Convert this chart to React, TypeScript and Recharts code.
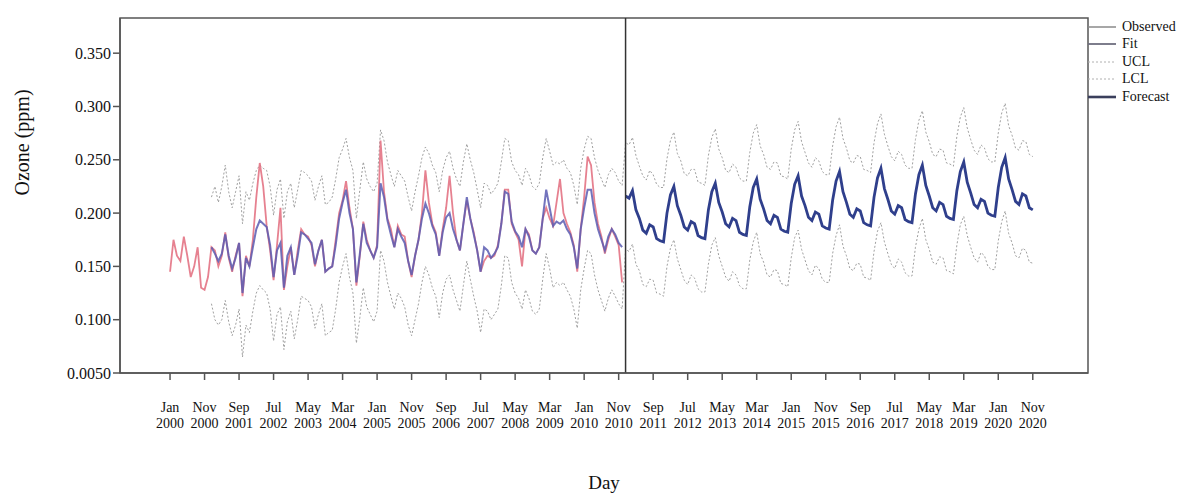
import {
  Line,
  LineChart,
  ReferenceArea,
  ReferenceLine,
  XAxis,
  YAxis,
} from "recharts";

const SERIF = '"Liberation Serif", "Times New Roman", serif';

// month index: 0 = Jan 2000
const tickMonths = [0, 10, 20, 30, 40, 50, 60, 70, 80, 90, 100, 110, 120, 130, 140, 150, 160, 170, 180, 190, 200, 210, 220, 230, 240, 250];
const tickLabels = [
  "Jan 2000", "Nov 2000", "Sep 2001", "Jul 2002", "May 2003", "Mar 2004",
  "Jan 2005", "Nov 2005", "Sep 2006", "Jul 2007", "May 2008", "Mar 2009",
  "Jan 2010", "Nov 2010", "Sep 2011", "Jul 2012", "May 2013", "Mar 2014",
  "Jan 2015", "Nov 2015", "Sep 2016", "Jul 2017", "May 2018", "Mar 2019",
  "Jan 2020", "Nov 2020",
];
const yTicks = [0.05, 0.1, 0.15, 0.2, 0.25, 0.3, 0.35];

// Jan 2000 .. Dec 2010
const observed = [
  0.145, 0.175, 0.160, 0.155, 0.178, 0.160, 0.140, 0.150, 0.168, 0.130, 0.128, 0.140,
  0.168, 0.165, 0.150, 0.160, 0.182, 0.158, 0.145, 0.160, 0.172, 0.122, 0.160, 0.150,
  0.175, 0.215, 0.247, 0.225, 0.188, 0.165, 0.137, 0.170, 0.205, 0.128, 0.150, 0.168,
  0.142, 0.165, 0.185, 0.180, 0.178, 0.170, 0.150, 0.165, 0.175, 0.145, 0.148, 0.150,
  0.175, 0.200, 0.212, 0.230, 0.205, 0.185, 0.132, 0.160, 0.192, 0.175, 0.165, 0.158,
  0.170, 0.268, 0.220, 0.195, 0.185, 0.168, 0.188, 0.180, 0.178, 0.155, 0.140, 0.160,
  0.175, 0.200, 0.240, 0.210, 0.190, 0.182, 0.160, 0.185, 0.205, 0.235, 0.200, 0.175,
  0.165, 0.190, 0.212, 0.195, 0.182, 0.165, 0.145, 0.155, 0.160, 0.158, 0.160, 0.170,
  0.190, 0.222, 0.222, 0.190, 0.182, 0.175, 0.150, 0.185, 0.180, 0.165, 0.162, 0.168,
  0.195, 0.205, 0.195, 0.188, 0.210, 0.232, 0.200, 0.190, 0.182, 0.170, 0.145, 0.185,
  0.215, 0.253, 0.245, 0.210, 0.190, 0.178, 0.162, 0.175, 0.185, 0.178, 0.170, 0.135,
];

// Jan 2001 .. Dec 2010
const fitHist = [
  0.168, 0.162, 0.155, 0.162, 0.180, 0.160, 0.148, 0.158, 0.172, 0.125, 0.158, 0.150,
  0.168, 0.185, 0.193, 0.190, 0.187, 0.170, 0.140, 0.165, 0.172, 0.130, 0.160, 0.168,
  0.142, 0.160, 0.182, 0.180, 0.176, 0.172, 0.152, 0.165, 0.175, 0.145, 0.148, 0.150,
  0.170, 0.195, 0.210, 0.222, 0.200, 0.185, 0.135, 0.162, 0.190, 0.172, 0.165, 0.158,
  0.168, 0.228, 0.215, 0.193, 0.180, 0.168, 0.185, 0.178, 0.172, 0.155, 0.142, 0.160,
  0.175, 0.195, 0.209, 0.200, 0.188, 0.180, 0.160, 0.182, 0.196, 0.200, 0.185, 0.175,
  0.165, 0.190, 0.215, 0.195, 0.180, 0.165, 0.145, 0.168, 0.165, 0.158, 0.162, 0.168,
  0.190, 0.220, 0.218, 0.192, 0.183, 0.178, 0.168, 0.185, 0.178, 0.165, 0.162, 0.168,
  0.195, 0.222, 0.205, 0.188, 0.192, 0.190, 0.193, 0.185, 0.180, 0.168, 0.148, 0.185,
  0.205, 0.222, 0.222, 0.200, 0.185, 0.175, 0.165, 0.178, 0.185, 0.180, 0.172, 0.168,
];

const uclHist = [
  0.215, 0.225, 0.210, 0.225, 0.245, 0.220, 0.205, 0.220, 0.235, 0.190, 0.220, 0.212,
  0.228, 0.240, 0.245, 0.242, 0.240, 0.225, 0.198, 0.222, 0.232, 0.195, 0.220, 0.228,
  0.205, 0.222, 0.240, 0.238, 0.235, 0.230, 0.212, 0.225, 0.235, 0.208, 0.210, 0.215,
  0.232, 0.252, 0.260, 0.270, 0.252, 0.240, 0.195, 0.222, 0.248, 0.232, 0.225, 0.220,
  0.228, 0.278, 0.268, 0.248, 0.236, 0.225, 0.240, 0.235, 0.230, 0.215, 0.202, 0.220,
  0.235, 0.252, 0.262, 0.256, 0.245, 0.238, 0.220, 0.240, 0.252, 0.258, 0.242, 0.232,
  0.225, 0.248, 0.265, 0.250, 0.238, 0.222, 0.205, 0.228, 0.226, 0.218, 0.222, 0.228,
  0.248, 0.270, 0.268, 0.248, 0.240, 0.236, 0.226, 0.242, 0.236, 0.225, 0.222, 0.228,
  0.252, 0.270, 0.258, 0.245, 0.248, 0.246, 0.250, 0.242, 0.238, 0.226, 0.208, 0.242,
  0.260, 0.272, 0.270, 0.252, 0.240, 0.232, 0.224, 0.236, 0.242, 0.238, 0.230, 0.226,
];

const lclHist = [
  0.115, 0.100, 0.095, 0.100, 0.118, 0.098, 0.085, 0.095, 0.110, 0.065, 0.095, 0.088,
  0.108, 0.125, 0.132, 0.128, 0.125, 0.110, 0.080, 0.105, 0.112, 0.072, 0.098, 0.108,
  0.082, 0.100, 0.122, 0.120, 0.118, 0.112, 0.092, 0.105, 0.115, 0.085, 0.088, 0.090,
  0.110, 0.135, 0.150, 0.162, 0.140, 0.125, 0.078, 0.102, 0.130, 0.112, 0.105, 0.098,
  0.108, 0.165, 0.155, 0.135, 0.122, 0.110, 0.125, 0.120, 0.112, 0.095, 0.085, 0.100,
  0.115, 0.135, 0.150, 0.142, 0.130, 0.122, 0.102, 0.125, 0.138, 0.142, 0.128, 0.118,
  0.108, 0.132, 0.155, 0.138, 0.122, 0.108, 0.088, 0.110, 0.108, 0.100, 0.105, 0.110,
  0.132, 0.160, 0.158, 0.135, 0.125, 0.120, 0.110, 0.128, 0.120, 0.108, 0.105, 0.110,
  0.138, 0.162, 0.148, 0.130, 0.135, 0.132, 0.135, 0.128, 0.122, 0.110, 0.092, 0.128,
  0.148, 0.165, 0.162, 0.142, 0.128, 0.118, 0.108, 0.120, 0.128, 0.122, 0.115, 0.110,
];

// Jan 2011 .. Nov 2020
const forecast = [
  0.216, 0.214, 0.221, 0.203, 0.195, 0.184, 0.181, 0.189, 0.187, 0.176, 0.174, 0.173,
  0.200, 0.217, 0.225, 0.207, 0.198, 0.187, 0.184, 0.192, 0.190, 0.179, 0.177, 0.176,
  0.203, 0.220, 0.228, 0.210, 0.201, 0.190, 0.187, 0.195, 0.193, 0.182, 0.180, 0.179,
  0.206, 0.224, 0.232, 0.213, 0.204, 0.193, 0.190, 0.198, 0.196, 0.185, 0.183, 0.182,
  0.209, 0.227, 0.235, 0.216, 0.207, 0.196, 0.193, 0.201, 0.199, 0.188, 0.186, 0.185,
  0.212, 0.230, 0.239, 0.220, 0.210, 0.199, 0.196, 0.204, 0.202, 0.191, 0.189, 0.188,
  0.215, 0.233, 0.242, 0.223, 0.213, 0.202, 0.199, 0.207, 0.205, 0.194, 0.192, 0.191,
  0.218, 0.236, 0.245, 0.226, 0.216, 0.205, 0.202, 0.210, 0.208, 0.197, 0.195, 0.194,
  0.221, 0.239, 0.248, 0.229, 0.219, 0.208, 0.205, 0.213, 0.211, 0.200, 0.198, 0.197,
  0.224, 0.243, 0.252, 0.232, 0.222, 0.211, 0.208, 0.218, 0.216, 0.205, 0.203,
];

const uclFc = [
  0.266, 0.264, 0.271, 0.254, 0.244, 0.235, 0.231, 0.240, 0.236, 0.227, 0.224, 0.224,
  0.251, 0.268, 0.276, 0.256, 0.249, 0.237, 0.235, 0.241, 0.241, 0.229, 0.228, 0.226,
  0.254, 0.271, 0.279, 0.260, 0.252, 0.240, 0.238, 0.246, 0.243, 0.233, 0.230, 0.230,
  0.257, 0.275, 0.283, 0.263, 0.255, 0.243, 0.241, 0.248, 0.247, 0.235, 0.234, 0.232,
  0.260, 0.278, 0.286, 0.267, 0.257, 0.247, 0.243, 0.252, 0.249, 0.239, 0.236, 0.236,
  0.263, 0.281, 0.290, 0.270, 0.261, 0.249, 0.247, 0.254, 0.253, 0.241, 0.240, 0.238,
  0.266, 0.284, 0.293, 0.274, 0.263, 0.253, 0.249, 0.258, 0.255, 0.245, 0.242, 0.242,
  0.269, 0.287, 0.296, 0.276, 0.267, 0.255, 0.253, 0.260, 0.259, 0.247, 0.246, 0.244,
  0.272, 0.290, 0.299, 0.280, 0.269, 0.259, 0.255, 0.264, 0.261, 0.251, 0.248, 0.248,
  0.275, 0.294, 0.303, 0.282, 0.273, 0.261, 0.259, 0.268, 0.267, 0.255, 0.253,
];

const lclFc = [
  0.166, 0.164, 0.171, 0.152, 0.146, 0.133, 0.131, 0.138, 0.137, 0.125, 0.124, 0.122,
  0.150, 0.167, 0.175, 0.157, 0.147, 0.137, 0.133, 0.142, 0.139, 0.129, 0.126, 0.126,
  0.152, 0.170, 0.177, 0.160, 0.150, 0.140, 0.136, 0.145, 0.142, 0.132, 0.129, 0.129,
  0.156, 0.173, 0.182, 0.162, 0.154, 0.142, 0.140, 0.147, 0.146, 0.134, 0.133, 0.131,
  0.158, 0.177, 0.184, 0.166, 0.156, 0.146, 0.142, 0.151, 0.148, 0.138, 0.135, 0.135,
  0.162, 0.179, 0.189, 0.169, 0.160, 0.148, 0.146, 0.153, 0.152, 0.140, 0.139, 0.137,
  0.164, 0.183, 0.191, 0.173, 0.162, 0.152, 0.148, 0.157, 0.154, 0.144, 0.141, 0.141,
  0.168, 0.185, 0.195, 0.175, 0.166, 0.154, 0.152, 0.159, 0.158, 0.146, 0.145, 0.143,
  0.170, 0.189, 0.197, 0.179, 0.168, 0.158, 0.154, 0.163, 0.160, 0.150, 0.147, 0.147,
  0.174, 0.192, 0.202, 0.181, 0.172, 0.160, 0.158, 0.167, 0.165, 0.154, 0.153,
];

const FIT_START = 12;
const FC_START = 132;

const data = Array.from({ length: 251 }, (_, m) => ({
  m,
  observed: m < FC_START ? observed[m] : undefined,
  fit: m >= FIT_START && m < FC_START ? fitHist[m - FIT_START] : undefined,
  ucl: m < FIT_START ? undefined : m < FC_START ? uclHist[m - FIT_START] : uclFc[m - FC_START],
  lcl: m < FIT_START ? undefined : m < FC_START ? lclHist[m - FIT_START] : lclFc[m - FC_START],
  forecast: m >= FC_START ? forecast[m - FC_START] : undefined,
}));

const legendItems = [
  { name: "Observed", color: "#8a8a8a", width: 1.5, dash: undefined },
  { name: "Fit", color: "#6f6f7f", width: 1.8, dash: undefined },
  { name: "UCL", color: "#b0b0b0", width: 1, dash: "2 2" },
  { name: "LCL", color: "#b0b0b0", width: 1, dash: "2 2" },
  { name: "Forecast", color: "#3a3f5c", width: 2.6, dash: undefined },
];

function XTick(props: any) {
  const { x, y, payload } = props;
  const label = tickLabels[tickMonths.indexOf(payload.value)] ?? "";
  const [mon, yr] = label.split(" ");
  return (
    <text x={x} y={y} textAnchor="middle" fill="#111" fontSize={14} fontFamily={SERIF}>
      <tspan x={x} dy={30}>{mon}</tspan>
      <tspan x={x} dy={16}>{yr}</tspan>
    </text>
  );
}

function LegendBox() {
  return (
    <div style={{ position: "absolute", left: 1086, top: 18, fontFamily: SERIF, fontSize: 14, color: "#111" }}>
      {legendItems.map((it) => (
        <div key={it.name} style={{ display: "flex", alignItems: "center", height: 17.5 }}>
          <svg width={32} height={10} style={{ marginRight: 4 }}>
            <line x1={2} y1={5} x2={30} y2={5} stroke={it.color} strokeWidth={it.width} strokeDasharray={it.dash} />
          </svg>
          <span>{it.name}</span>
        </div>
      ))}
    </div>
  );
}

export default function App() {
  return (
    <div style={{ position: "absolute", left: 0, top: 0, width: 1186, height: 495, background: "#fff" }}>
      <LineChart
        width={1186}
        height={495}
        data={data}
        margin={{ top: 18, right: 98, bottom: 0, left: 0 }}
      >
        <XAxis
          dataKey="m"
          type="number"
          domain={[-14.5, 266]}
          ticks={tickMonths}
          tick={<XTick />}
          tickSize={7}
          height={122}
          stroke="#555"
          strokeWidth={1.5}
          interval={0}
          allowDataOverflow
          label={{ value: "Day", position: "insideBottom", offset: 6, fontSize: 19, fontFamily: SERIF, fill: "#111" }}
        />
        <YAxis
          type="number"
          domain={[0.05, 0.383]}
          ticks={yTicks}
          width={120}
          tickSize={7}
          stroke="#555"
          strokeWidth={1.5}
          allowDataOverflow
          tick={{ fontSize: 16, fontFamily: SERIF, fill: "#111" }}
          tickFormatter={(v: number) => (v === 0.05 ? "0.0050" : v.toFixed(3))}
          label={{ value: "Ozone (ppm)", angle: -90, position: "insideLeft", offset: 22, fontSize: 20, fontFamily: SERIF, fill: "#111" }}
        />
        <ReferenceArea x1={-14.5} x2={266} y1={0.05} y2={0.383} fill="none" stroke="#555" strokeWidth={1.5} />
        <Line dataKey="ucl" stroke="#a0a0a0" strokeWidth={1} strokeDasharray="2 2" dot={false} isAnimationActive={false} />
        <Line dataKey="lcl" stroke="#a0a0a0" strokeWidth={1} strokeDasharray="2 2" dot={false} isAnimationActive={false} />
        <Line dataKey="observed" stroke="#e26b7c" strokeOpacity={0.85} strokeWidth={1.8} dot={false} isAnimationActive={false} />
        <Line dataKey="fit" stroke="#5a5cb2" strokeOpacity={0.85} strokeWidth={2} dot={false} isAnimationActive={false} />
        <Line dataKey="forecast" stroke="#2f3f8c" strokeWidth={2.8} dot={false} isAnimationActive={false} />
        <ReferenceLine x={132} stroke="#333" strokeWidth={1.5} />
      </LineChart>
      <LegendBox />
    </div>
  );
}
